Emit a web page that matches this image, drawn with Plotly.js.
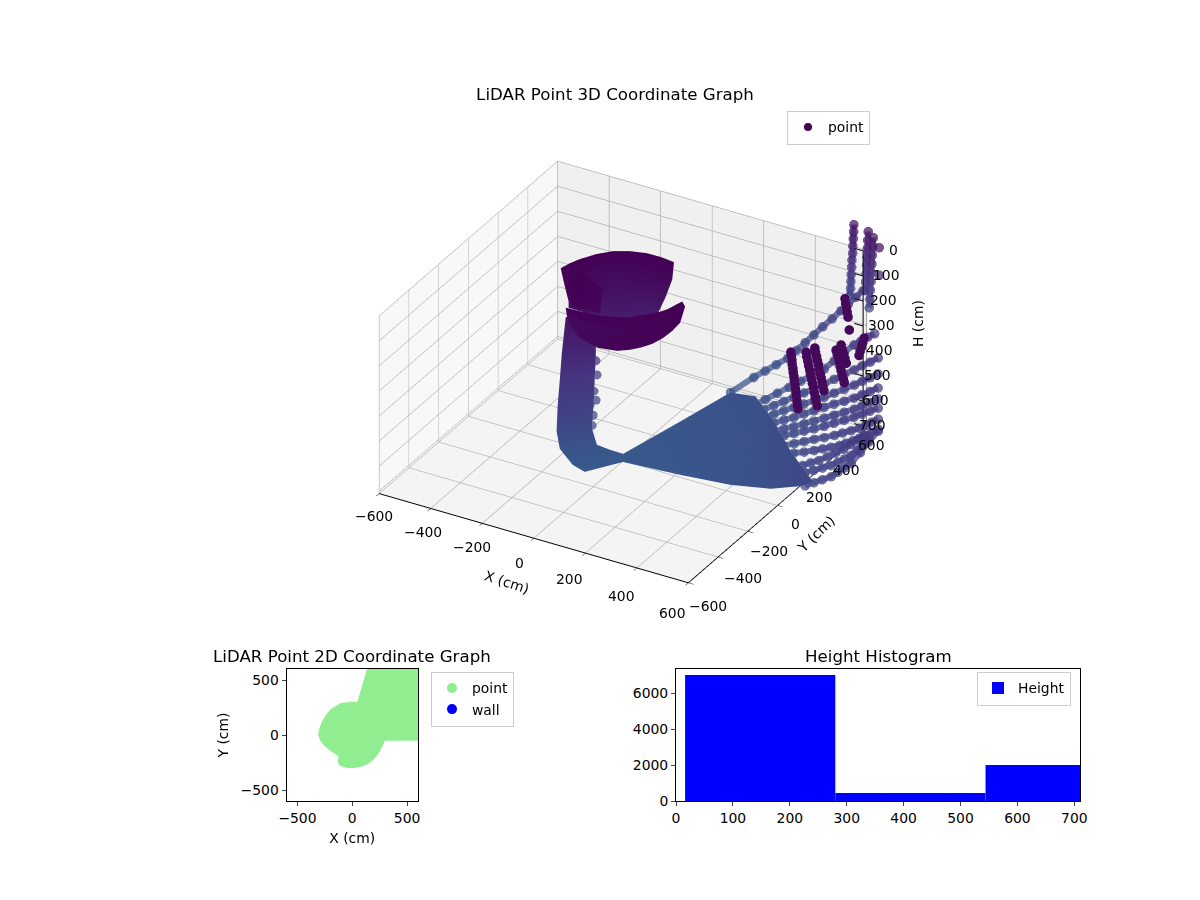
<!DOCTYPE html>
<html>
<head>
<meta charset="utf-8">
<script src="https://cdn.plot.ly/plotly-3.0.1.min.js"></script>
<style>body{margin:0;background:#fff}#plot{width:1200px;height:900px}</style>
</head>
<body>
<div id="plot"></div>
<script>
const FONT = 'DejaVu Sans';

// upper shell, first row is the middle of the patch
const cupX = [-114,-269,-259,-244,-213,-173,-122,-66,-10,45,39,21,-4,-83,-179,-213,-217,-238];
const cupY = [141,41,86,127,184,231,260,277,278,270,269,253,240,171,131,-2,5,15];
const cupH = [110,40,40,40,40,40,40,40,40,40,110,180,250,250,250,160,140,90];
const cupShade = [225,150,150,150,150,150,150,150,150,150,190,240,300,300,290,200,190,170];
// darker fold on the left of the upper shell
const foldX = [-116,-203,-72,1,-109,-193];
const foldY = [-60,55,-11,-159,-159,-42];
const foldH = [40,40,40,40,40,40];
const foldShade = [160,150,170,180,160,150];
// lower shell
const lipX = [43,-180,-60,36,108,148,169,195,150,155,152,140,117,92,60,-7,-95,-185];
const lipY = [-61,-80,-74,-34,47,80,111,86,130,69,12,-43,-87,-118,-144,-159,-131,-56];
const lipH = [150,110,110,110,110,95,80,80,180,180,180,180,180,180,180,180,180,180];
const lipShade = [175,150,150,150,150,150,150,150,150,155,160,165,170,170,170,175,190,200];
// column, pairs of left and right edge going down
const colX = [-267,-168,-240,-150,-221,-141,-201,-111,-186,-92,-177,-81,-118,-60,-67,-15,12,-15];
const colY = [72,106,-2,75,-49,53,-98,-7,-131,-53,-125,-38,-139,14,-145,27,-21,27];
const colH = [250,250,350,350,430,430,500,500,580,580,650,650,690,690,700,700,700,700];
// loose points on the right edge of the column
const looseX = [-158,-149,-145,-125,-143,-116,-102,-110];
const looseY = [88,80,52,32,21,-3,-35,-56];
const looseH = [400,450,500,520,540,560,580,600];
// dense part of the floor fan
const fanX = [367,-15,69,144,240,391,567,760,738,609,451,238,12];
const fanY = [167,27,271,484,489,345,164,-21,-36,-46,-47,-22,-21];
const fanH = [650,700,670,640,630,605,590,560,575,620,650,685,700];
// floor rays, null between rays
const rayX = [144,161,183,204,226,238,250,262,275,289,302,312,323,333,null,
  257,282,308,333,364,395,426,442,458,474,493,512,531,null,
  309,336,363,390,419,448,477,505,532,560,584,609,633,null,
  336,366,395,425,457,490,522,552,582,612,637,662,687,null,
  364,396,427,459,491,524,556,589,623,656,682,709,735,null,
  391,424,457,490,525,559,594,627,661,694,720,747,773,null,
  412,446,480,514,550,585,621,654,688,721,749,776,804,null,
  478,513,549,584,621,658,695,724,754,783,803,822,842,null,
  539,578,618,657,689,721,753,774,796,817,837,856,876,null,
  738,766,794,822,837,851,866,872,877,883,null,
  693,723,754,784,802,821,839,848,858,867,null,
  631,659,686,714,739,763,788,802,816,830];
const rayY = [484,613,653,693,733,772,810,849,887,926,964,997,1029,1062,null,
  447,483,520,556,582,609,635,675,715,755,769,783,797,null,
  426,447,468,489,508,527,546,566,587,607,620,632,645,null,
  378,395,413,430,443,455,468,485,501,518,529,539,550,null,
  331,344,358,371,384,396,409,419,430,440,449,458,467,null,
  283,294,306,317,326,335,344,354,365,375,384,393,402,null,
  248,257,267,276,283,289,296,306,317,327,334,341,348,null,
  202,209,217,224,229,233,238,244,250,256,265,274,283,null,
  163,164,165,166,168,170,172,180,189,197,206,215,224,null,
  -36,-25,-15,-4,16,36,56,108,160,212,null,
  41,48,55,62,76,90,104,129,154,179,null,
  74,83,91,100,114,128,142,164,186,208];
const rayH = [640,640,628,617,605,590,575,560,543,527,510,497,483,470,null,
  640,627,613,600,580,560,540,523,507,490,477,463,450,null,
  630,617,603,590,573,557,540,523,507,490,473,457,440,null,
  630,617,603,590,573,557,540,523,507,490,473,457,440,null,
  630,617,603,590,573,557,540,523,507,490,473,457,440,null,
  630,617,603,590,573,557,540,523,507,490,473,457,440,null,
  630,617,603,590,573,557,540,523,507,490,473,457,440,null,
  620,605,590,575,558,542,525,510,495,480,467,453,440,null,
  610,593,577,560,545,530,515,503,492,480,467,453,440,null,
  575,560,545,530,518,507,495,477,458,440,null,
  575,560,545,530,518,507,495,483,472,460,null,
  590,577,563,550,535,520,505,493,482,470];
// far wall strips at the top right
const farX = [269,268,267,266,265,263,262,261,260,259,257,null,335,334,332,331,330,329,327,326,null,371,370,368,367,365,364,362,361,359,null,422,null,422];
const farY = [1110,1109,1109,1108,1108,1107,1106,1105,1105,1104,1103,null,1093,1092,1092,1091,1090,1090,1089,1088,null,1066,1065,1064,1063,1062,1062,1061,1060,1059,null,1017,null,1017];
const farH = [250,278,307,335,364,392,420,449,477,505,534,null,250,284,317,351,384,418,451,485,null,250,285,320,355,390,425,460,495,530,null,250,null,360];
// dark obstacle strips
const stripX = [560,561,563,564,566,567,569,570,572,573,575,576,578,579,581,null,
  605,607,610,613,616,618,621,624,627,629,632,635,638,null,
  617,619,622,625,628,630,633,636,639,641,644,null,
  687,690,693,696,699,702,705,708,711,null,
  684,688,692,695,699,null,538,540,542,544,547,null,729,725,721,717,714,null,657];
const stripY = [175,176,177,177,178,179,180,181,182,183,184,184,185,186,187,null,
  201,202,204,205,207,208,210,212,214,215,217,218,220,null,
  240,241,243,244,246,247,249,250,252,253,255,null,
  264,266,268,270,271,272,274,276,278,null,
  303,305,308,310,312,null,583,584,586,587,588,null,383,380,378,376,374,null,406];
const stripH = [200,216,232,248,265,281,297,313,330,346,362,378,395,411,427,null,
  200,218,236,254,272,290,308,325,343,361,379,397,415,null,
  200,217,234,251,268,285,302,319,336,353,370,null,
  200,216,232,248,265,281,298,314,330,null,
  200,218,236,254,273,null,200,218,236,254,273,null,200,217,235,252,269,null,200];

// 2D footprint outline
const footX = [144,53,0,-53,-100,-130,-190,-230,-266,-290,-302,-285,-251,-190,-114,-123,-110,-84,-40,8,70,129,180,220,245,266,280,290,600,600];
const footY = [600,290,293,290,283,265,229,180,123,60,0,-45,-90,-140,-187,-242,-270,-281,-291,-293,-283,-263,-225,-181,-145,-105,-70,-44,-44,600];

// height histogram
const binMid = [148,412,677];
const binWidth = [264,264,266];
const binCount = [7000,444,2000];

const axisTicks = [-600,-400,-200,0,200,400,600];
const heightTicks = [0,100,200,300,400,500,600,700];

// label offsets from the axis, in pixels
const xLabelShift = [[-5,23],[-7.5,24.5],[-10,24],[-14.5,25],[-16,26],[-15.5,29],[-16,30.5]];
const yLabelShift = [[20,24],[25,21],[21,20],[18,19],[12,18],[9,17],[5,17]];
const hLabelShift = [27,20,17,15,13,11,9,6];

function fanTriangles(n) {
  const t = {i: [], j: [], k: []};
  for (let v = 1; v < n; v++) {
    t.i.push(0);
    t.j.push(v);
    t.k.push(v + 1 < n ? v + 1 : 1);
  }
  return t;
}

function stripTriangles(n) {
  const t = {i: [], j: [], k: []};
  for (let v = 0; v + 2 < n; v++) {
    t.i.push(v);
    t.j.push(v + 1);
    t.k.push(v + 2);
  }
  return t;
}

const heightScale = [[0,'#440154'],[0.5,'#463480'],[1,'#38598c']];
const stripScale = [[0,'#45095c'],[1,'#45095c']];
const flat = {ambient: 1, diffuse: 0, specular: 0, roughness: 1, fresnel: 0};

function shell(x, y, h, shade, tri) {
  return Object.assign({
    type: 'mesh3d', scene: 'scene2', x: x, y: y, z: h, intensity: shade,
    colorscale: heightScale, cmin: 150, cmax: 700, showscale: false,
    flatshading: true, lighting: flat, hoverinfo: 'skip', showlegend: false,
  }, tri);
}

function chain(x, y, h, opacity, scale) {
  return {
    type: 'scatter3d', scene: 'scene2', mode: 'lines+markers', x: x, y: y, z: h,
    opacity: opacity, showlegend: false, hoverinfo: 'skip', connectgaps: false,
    line: {width: 12, color: h, colorscale: scale, cmin: 150, cmax: 700},
    marker: {size: 5.6, color: h, colorscale: scale, cmin: 150, cmax: 700, line: {width: 0}},
  };
}

// the H axis stands on the back right corner, where plotly does not put it
const axisLineX = [600,600], axisLineY = [600,600], axisLineH = [0,710];
const tickX = [], tickY = [], tickH = [];
heightTicks.forEach(function (t) {
  tickX.push(600, 565, null);
  tickY.push(600, 600, null);
  tickH.push(t, t, null);
});

const traces = [
  // keeps the box scene alive, the marks all sit in the overlay scene
  {type: 'scatter3d', scene: 'scene', mode: 'lines', x: axisLineX, y: axisLineY, z: axisLineH,
    line: {width: 1, color: '#000'}, showlegend: false, hoverinfo: 'skip'},
  shell(fanX, fanY, fanH, fanH, fanTriangles(fanX.length)),
  shell(colX, colY, colH, colH, stripTriangles(colX.length)),
  shell(cupX, cupY, cupH, cupShade, fanTriangles(cupX.length)),
  shell(foldX, foldY, foldH, foldShade, fanTriangles(foldX.length)),
  shell(lipX, lipY, lipH, lipShade, fanTriangles(lipX.length)),
  chain(rayX, rayY, rayH, 0.72, heightScale),
  chain(farX, farY, farH, 0.72, heightScale),
  {type: 'scatter3d', scene: 'scene2', mode: 'markers', x: looseX, y: looseY, z: looseH,
    opacity: 0.72, showlegend: false, hoverinfo: 'skip',
    marker: {size: 5.2, color: looseH, colorscale: heightScale, cmin: 150, cmax: 700, line: {width: 0}}},
  chain(stripX, stripY, stripH, 1, stripScale),
  {type: 'scatter3d', scene: 'scene2', mode: 'lines', x: axisLineX, y: axisLineY, z: axisLineH,
    line: {width: 2, color: '#000'}, showlegend: false, hoverinfo: 'skip'},
  {type: 'scatter3d', scene: 'scene2', mode: 'lines', x: tickX, y: tickY, z: tickH,
    line: {width: 2, color: '#000'}, showlegend: false, hoverinfo: 'skip', connectgaps: false},
  {type: 'scatter', xaxis: 'x', yaxis: 'y', mode: 'markers', x: [null], y: [null], name: 'point',
    legend: 'legend', marker: {size: 8, color: '#440154'}},
  {type: 'scatter', xaxis: 'x', yaxis: 'y', mode: 'lines', x: footX, y: footY, fill: 'toself',
    fillcolor: 'lightgreen', line: {width: 2, color: 'lightgreen'}, showlegend: false, hoverinfo: 'skip'},
  {type: 'scatter', xaxis: 'x', yaxis: 'y', mode: 'markers', x: [null], y: [null], name: 'point',
    legend: 'legend2', marker: {size: 10, color: 'lightgreen'}},
  {type: 'scatter', xaxis: 'x', yaxis: 'y', mode: 'markers', x: [null], y: [null], name: 'wall',
    legend: 'legend2', marker: {size: 10, color: 'blue'}},
  {type: 'bar', xaxis: 'x2', yaxis: 'y2', x: binMid, y: binCount, width: binWidth, name: 'Height',
    legend: 'legend3', marker: {color: 'blue', line: {width: 0}}},
];

const tickFont = {family: FONT, size: 13.9, color: '#000'};

function axis3d(bg, ticks, range) {
  return {
    title: {text: ''},
    range: range, autorange: false, tickvals: ticks, showticklabels: false,
    showbackground: true, backgroundcolor: bg, gridcolor: '#b0b0b0', gridwidth: 1.5,
    showline: true, linecolor: '#000', linewidth: 2, ticks: 'outside', ticklen: 6, tickcolor: '#000',
    zeroline: false, showspikes: false,
  };
}

function axis2d(domain, range, ticks, title, anchor) {
  const ax = {
    domain: domain, range: range, tickvals: ticks, anchor: anchor, mirror: true, showline: true,
    linecolor: '#000', linewidth: 1, ticks: 'outside', ticklen: 4, showgrid: false, zeroline: false,
    tickfont: tickFont,
  };
  if (title) ax.title = {text: title, font: tickFont, standoff: 8};
  return ax;
}

function sceneLabel(x, y, z, text, shift) {
  return {x: x, y: y, z: z, text: text, showarrow: false, xshift: shift[0], yshift: -shift[1], font: tickFont};
}

function paperLabel(text, px, py, font, angle) {
  return {text: text, xref: 'paper', yref: 'paper', x: px / 1200, y: 1 - py / 900, textangle: angle || 0,
    xanchor: 'center', yanchor: 'middle', showarrow: false, font: font};
}

const eye = {x: 0.367, y: -0.636, z: 0.424};
const sceneDomain = {x: [266 / 1200, 980 / 1200], y: [1 - 728.5 / 900, 1 - 14.5 / 900]};
const camera = {eye: eye, up: {x: 0, y: 0, z: 1}, center: {x: 0, y: 0, z: 0}, projection: {type: 'orthographic'}};

const legendBase = {
  bgcolor: 'rgba(255,255,255,0.8)', bordercolor: '#ccc', borderwidth: 1,
  font: tickFont, xanchor: 'left', yanchor: 'middle',
};

const hidden = {visible: false, showbackground: false, showgrid: false, zeroline: false, showticklabels: false, showspikes: false};

const zAxis = axis3d('#f4f4f4', heightTicks, [710, 0]);
zAxis.showline = false;
zAxis.ticks = '';

const titleFont = {family: FONT, size: 16.67, color: '#000'};

const layout = {
  width: 1200, height: 900, paper_bgcolor: '#fff', plot_bgcolor: '#fff',
  margin: {l: 0, r: 0, t: 0, b: 0},
  title: {text: 'LiDAR Point 3D Coordinate Graph', x: 615 / 1200, y: 1 - 94.5 / 900,
    xanchor: 'center', yanchor: 'middle', font: titleFont},
  scene: {
    domain: sceneDomain, camera: camera, bgcolor: 'rgba(0,0,0,0)',
    aspectmode: 'manual', aspectratio: {x: 1, y: 1, z: 0.575},
    xaxis: axis3d('#f8f8f8', axisTicks, [-600, 600]),
    yaxis: axis3d('#f0f0f0', axisTicks, [-600, 600]),
    zaxis: zAxis,
    annotations: [].concat(
      axisTicks.map(function (t, n) { return sceneLabel(t, -600, 710, String(t).replace('-', '\u2212'), xLabelShift[n]); }),
      axisTicks.map(function (t, n) { return sceneLabel(600, t, 710, String(t).replace('-', '\u2212'), yLabelShift[n]); }),
      heightTicks.map(function (t, n) { return sceneLabel(600, 600, t, String(t), [hLabelShift[n], 0]); })
    ),
  },
  scene2: {
    domain: sceneDomain, camera: camera,
    aspectmode: 'manual', aspectratio: {x: 1.97, y: 1.97, z: 0.575},
    bgcolor: 'rgba(0,0,0,0)',
    xaxis: Object.assign({range: [-1200, 1200], autorange: false}, hidden),
    yaxis: Object.assign({range: [-1200, 1200], autorange: false}, hidden),
    zaxis: Object.assign({range: [710, 0], autorange: false}, hidden),
  },
  xaxis: axis2d([286.5 / 1200, 418 / 1200], [-600, 600], [-500, 0, 500], 'X (cm)', 'y'),
  yaxis: axis2d([1 - 801 / 900, 1 - 669 / 900], [-600, 600], [-500, 0, 500], 'Y (cm)', 'x'),
  xaxis2: axis2d([676 / 1200, 1080 / 1200], [0, 710], [0,100,200,300,400,500,600,700], null, 'y2'),
  yaxis2: axis2d([1 - 801 / 900, 1 - 669 / 900], [0, 7340], [0,2000,4000,6000], null, 'x2'),
  legend: Object.assign({}, legendBase, {x: 787 / 1200, y: 1 - 127.5 / 900}),
  legend2: Object.assign({}, legendBase, {x: 431 / 1200, y: 1 - 699 / 900}),
  legend3: Object.assign({}, legendBase, {x: 977 / 1200, y: 1 - 688.5 / 900}),
  annotations: [
    paperLabel('LiDAR Point 2D Coordinate Graph', 352, 656, titleFont),
    paperLabel('Height Histogram', 878, 656, titleFont),
    paperLabel('H (cm)', 918, 324, tickFont, -90),
    paperLabel('X (cm)', 507, 582, tickFont, 18),
    paperLabel('Y (cm)', 816, 534, tickFont, -44),
  ],
};

Plotly.newPlot('plot', traces, layout, {displayModeBar: false});
</script>
</body>
</html>
